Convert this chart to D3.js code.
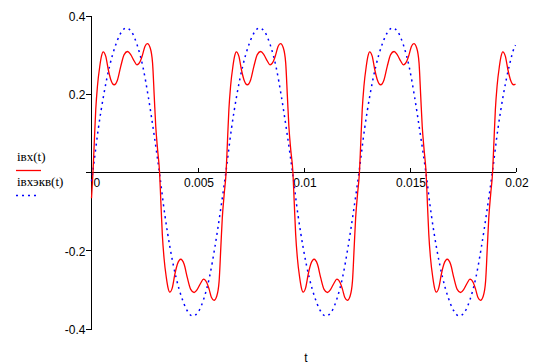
<!DOCTYPE html>
<html>
<head>
<meta charset="utf-8">
<script src="https://cdn.jsdelivr.net/npm/d3@7"></script>
<style>
  body { margin: 0; background: #fff; }
  svg { display: block; }
  .tick-label { font-family: "Liberation Sans", Arial, sans-serif; font-size: 12px; fill: #000; }
  .legend-label { font-family: "Liberation Serif", "Times New Roman", serif; font-size: 13px; fill: #000; }
</style>
</head>
<body>
<div id="grafico"></div>
<script>
// eixo t (s)
const tTicks = [0, 0.005, 0.01, 0.015, 0.02];
const tTickLabels = ['0', '0.005', '0.01', '0.015', '0.02'];
const iTicks = [0.4, 0.2, 0, -0.2, -0.4];
const iTickLabels = ['0.4', '0.2', '', '-0.2', '-0.4'];

const nomes = ['iвх(t)', 'iвхэкв(t)'];

// iвх(t)
const tRed = [
  0,
  0.00007, 0.00013, 0.00020, 0.00028, 0.00039, 0.00047, 0.00055, 0.00067, 0.00079, 0.00091, 0.00107, 0.00123, 0.00138, 0.00154, 0.00170, 0.00185, 0.00202, 0.00214, 0.00230, 0.00241, 0.00252, 0.00264, 0.00277, 0.00288, 0.00296, 0.00303, 0.00312,
  0.00321, 0.00327, 0.00334, 0.00342, 0.00353, 0.00361, 0.00369, 0.00381, 0.00393, 0.00405, 0.00421, 0.00437, 0.00452, 0.00468, 0.00484, 0.00499, 0.00516, 0.00528, 0.00544, 0.00555, 0.00566, 0.00578, 0.00591, 0.00602, 0.00610, 0.00617, 0.00626,
  0.00635, 0.00641, 0.00648, 0.00656, 0.00667, 0.00675, 0.00683, 0.00695, 0.00707, 0.00719, 0.00735, 0.00751, 0.00766, 0.00782, 0.00798, 0.00813, 0.00830, 0.00842, 0.00858, 0.00869, 0.00880, 0.00892, 0.00905, 0.00916, 0.00924, 0.00931, 0.00940,
  0.00950, 0.00956, 0.00963, 0.00971, 0.00982, 0.00990, 0.00998, 0.01010, 0.01022, 0.01034, 0.01050, 0.01066, 0.01081, 0.01097, 0.01113, 0.01128, 0.01145, 0.01157, 0.01173, 0.01184, 0.01195, 0.01207, 0.01220, 0.01231, 0.01239, 0.01246, 0.01255,
  0.01264, 0.01270, 0.01277, 0.01285, 0.01296, 0.01304, 0.01312, 0.01324, 0.01336, 0.01348, 0.01364, 0.01380, 0.01395, 0.01411, 0.01427, 0.01442, 0.01459, 0.01471, 0.01487, 0.01498, 0.01509, 0.01521, 0.01534, 0.01545, 0.01553, 0.01560, 0.01569,
  0.01578, 0.01584, 0.01591, 0.01599, 0.01610, 0.01618, 0.01626, 0.01638, 0.01650, 0.01662, 0.01678, 0.01694, 0.01709, 0.01725, 0.01741, 0.01756, 0.01773, 0.01785, 0.01801, 0.01812, 0.01823, 0.01835, 0.01848, 0.01859, 0.01867, 0.01874, 0.01883,
  0.01892, 0.01898, 0.01905, 0.01913, 0.01924, 0.01932, 0.01940, 0.01952, 0.01964, 0.01976, 0.01992, 0.02000
];
const iRed = [
  -0.067,
  0, 0.074, 0.159, 0.219, 0.27, 0.296, 0.307, 0.296, 0.262, 0.236, 0.223, 0.236, 0.27, 0.3, 0.308, 0.3, 0.283, 0.274, 0.283, 0.3, 0.321, 0.328, 0.317, 0.279, 0.193, 0.117, 0.056,
  0, -0.074, -0.159, -0.219, -0.27, -0.296, -0.307, -0.296, -0.262, -0.236, -0.223, -0.236, -0.27, -0.3, -0.308, -0.3, -0.283, -0.274, -0.283, -0.3, -0.321, -0.328, -0.317, -0.279, -0.193, -0.117, -0.056,
  0, 0.074, 0.159, 0.219, 0.27, 0.296, 0.307, 0.296, 0.262, 0.236, 0.223, 0.236, 0.27, 0.3, 0.308, 0.3, 0.283, 0.274, 0.283, 0.3, 0.321, 0.328, 0.317, 0.279, 0.193, 0.117, 0.056,
  0, -0.074, -0.159, -0.219, -0.27, -0.296, -0.307, -0.296, -0.262, -0.236, -0.223, -0.236, -0.27, -0.3, -0.308, -0.3, -0.283, -0.274, -0.283, -0.3, -0.321, -0.328, -0.317, -0.279, -0.193, -0.117, -0.056,
  0, 0.074, 0.159, 0.219, 0.27, 0.296, 0.307, 0.296, 0.262, 0.236, 0.223, 0.236, 0.27, 0.3, 0.308, 0.3, 0.283, 0.274, 0.283, 0.3, 0.321, 0.328, 0.317, 0.279, 0.193, 0.117, 0.056,
  0, -0.074, -0.159, -0.219, -0.27, -0.296, -0.307, -0.296, -0.262, -0.236, -0.223, -0.236, -0.27, -0.3, -0.308, -0.3, -0.283, -0.274, -0.283, -0.3, -0.321, -0.328, -0.317, -0.279, -0.193, -0.117, -0.056,
  0, 0.074, 0.159, 0.219, 0.27, 0.296, 0.307, 0.296, 0.262, 0.236, 0.223, 0.225
];

// iвхэкв(t)
const tBlue = [
  0, 0.00006, 0.00032, 0.00058, 0.00085, 0.00111, 0.00137, 0.00163, 0.00189, 0.00215, 0.00242, 0.00268, 0.00294,
  0.00320, 0.00346, 0.00372, 0.00399, 0.00425, 0.00451, 0.00477, 0.00503, 0.00529, 0.00556, 0.00582, 0.00608,
  0.00634, 0.00660, 0.00686, 0.00713, 0.00739, 0.00765, 0.00791, 0.00817, 0.00843, 0.00870, 0.00896, 0.00922,
  0.00948, 0.00974, 0.01000, 0.01027, 0.01053, 0.01079, 0.01105, 0.01131, 0.01157, 0.01184, 0.01210, 0.01236,
  0.01262, 0.01288, 0.01314, 0.01341, 0.01367, 0.01393, 0.01419, 0.01445, 0.01471, 0.01498, 0.01524, 0.01550,
  0.01577, 0.01603, 0.01629, 0.01656, 0.01682, 0.01708, 0.01734, 0.01760, 0.01786, 0.01813, 0.01839, 0.01865,
  0.01891, 0.01917, 0.01943, 0.01970, 0.01996, 0.02000
];
const iBlue = [
  -0.024, 0, 0.11, 0.198, 0.27, 0.32, 0.354, 0.368, 0.358, 0.325, 0.27, 0.192, 0.1,
  0, -0.11, -0.198, -0.27, -0.32, -0.354, -0.368, -0.358, -0.325, -0.27, -0.192, -0.1,
  0, 0.11, 0.198, 0.27, 0.32, 0.354, 0.368, 0.358, 0.325, 0.27, 0.192, 0.1,
  0, -0.11, -0.198, -0.27, -0.32, -0.354, -0.368, -0.358, -0.325, -0.27, -0.192, -0.1,
  0, 0.11, 0.198, 0.27, 0.32, 0.354, 0.368, 0.358, 0.325, 0.27, 0.192, 0.1,
  0, -0.11, -0.198, -0.27, -0.32, -0.354, -0.368, -0.358, -0.325, -0.27, -0.192, -0.1,
  0, 0.11, 0.198, 0.27, 0.32, 0.324
];

const width = 541, height = 364;

const svg = d3.select('#grafico')
  .append('svg')
  .attr('width', width)
  .attr('height', height);

const x = d3.scaleLinear().domain([0, 0.02]).range([91.5, 515.5]);
const y = d3.scaleLinear().domain([-0.4, 0.4]).range([328.5, 15.5]);

const linha = d3.line()
  .x(d => x(d[0]))
  .y(d => y(d[1]))
  .curve(d3.curveMonotoneX);

// eixo y
const eixoY = d3.axisLeft(y)
  .tickValues(iTicks)
  .tickSize(6)
  .tickFormat((d, i) => iTickLabels[i]);

const gY = svg.append('g')
  .attr('transform', `translate(${x(0)},0)`)
  .call(eixoY);
gY.select('.domain').attr('d', `M0,${y(0.4)}V${y(-0.4)}`).attr('stroke', '#000');
gY.selectAll('.tick line').attr('stroke', '#000');
gY.selectAll('.tick text')
  .attr('class', 'tick-label')
  .attr('x', -6)
  .attr('dy', '0.4em')
  .attr('font-family', null)
  .attr('font-size', null);

// eixo t
const eixoX = d3.axisTop(x)
  .tickValues(tTicks.slice(1))
  .tickSize(4)
  .tickFormat('');

const gX = svg.append('g')
  .attr('transform', `translate(0,${y(0)})`)
  .call(eixoX);
gX.select('.domain').attr('d', `M${x(0)},0H${x(0.02)}`).attr('stroke', '#000');
gX.selectAll('.tick line').attr('stroke', '#000');

svg.append('g')
  .selectAll('text')
  .data(tTicks)
  .enter()
  .append('text')
  .attr('class', 'tick-label')
  .attr('x', (d, i) => x(d) + (i === 0 ? 2 : 1.5))
  .attr('y', y(0) + 15)
  .attr('text-anchor', (d, i) => i === 0 ? 'start' : 'middle')
  .text((d, i) => tTickLabels[i]);

svg.selectAll('.domain, .tick line').attr('shape-rendering', 'crispEdges');

// curvas
svg.append('path')
  .datum(d3.zip(tBlue, iBlue))
  .attr('fill', 'none')
  .attr('stroke', '#0000ff')
  .attr('stroke-width', 1.5)
  .attr('stroke-dasharray', '2,4')
  .attr('d', linha);

svg.append('path')
  .datum(d3.zip(tRed, iRed))
  .attr('fill', 'none')
  .attr('stroke', '#ff0000')
  .attr('stroke-width', 1.3)
  .attr('d', linha);

// legenda
const legenda = svg.append('g');
legenda.append('text').attr('class', 'legend-label').attr('x', 17).attr('y', 161).text(nomes[0]);
legenda.append('line')
  .attr('x1', 16).attr('x2', 41).attr('y1', 170.5).attr('y2', 170.5)
  .attr('stroke', '#ff0000').attr('stroke-width', 1.3);
legenda.append('text').attr('class', 'legend-label').attr('x', 17).attr('y', 186).text(nomes[1]);
legenda.append('line')
  .attr('x1', 16).attr('x2', 37).attr('y1', 195.5).attr('y2', 195.5)
  .attr('stroke', '#0000ff').attr('stroke-width', 1.5)
  .attr('stroke-dasharray', '2,4');

// rótulo do eixo
svg.append('text')
  .attr('class', 'tick-label')
  .attr('x', 306)
  .attr('y', 362)
  .attr('text-anchor', 'middle')
  .text('t');
</script>
</body>
</html>
